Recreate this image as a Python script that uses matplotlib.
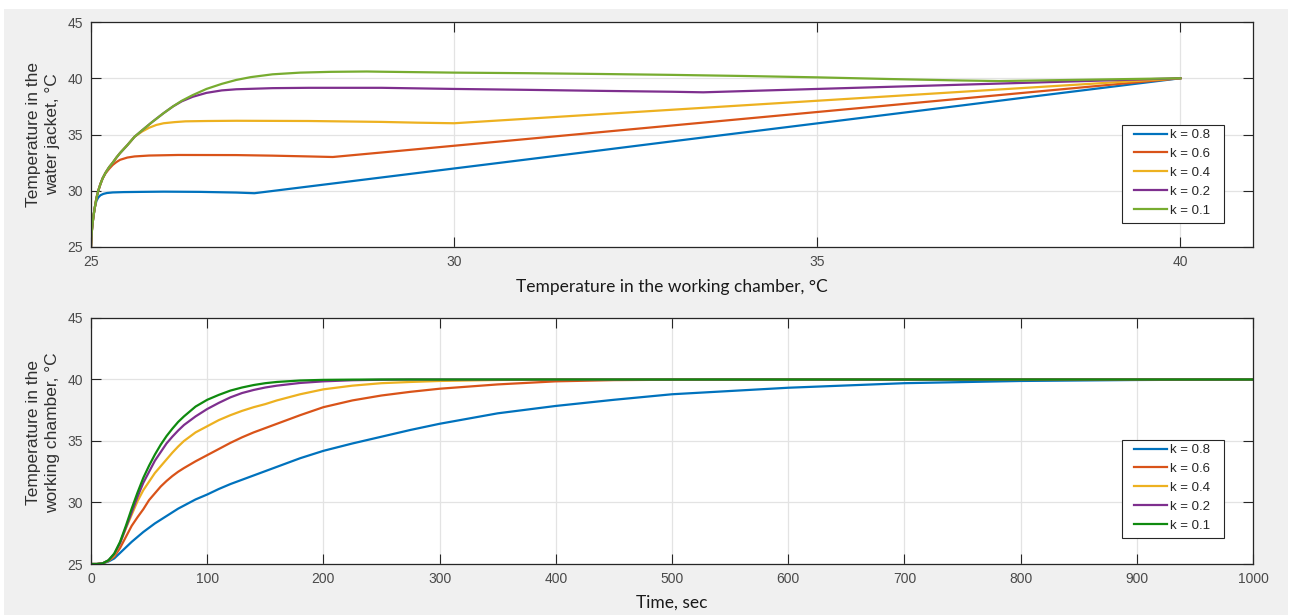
import numpy as np
import matplotlib
matplotlib.use('Agg')
import matplotlib.pyplot as plt
from matplotlib.patches import Rectangle

# ---- data ----
labels = ['k = 0.8', 'k = 0.6', 'k = 0.4', 'k = 0.2', 'k = 0.1']
colors_top = ['#0072BD', '#D95319', '#EDB120', '#7E2F8E', '#77AC30']
colors_bot = ['#0072BD', '#D95319', '#EDB120', '#7E2F8E', '#0F8A0F']

# top plot: water jacket temp vs working chamber temp
# all curves share the same initial rise (env) until they branch off
env_T = [25.0, 25.005, 25.01, 25.02, 25.035, 25.055, 25.075, 25.1, 25.13, 25.16, 25.2,
         25.25, 25.3, 25.35, 25.4, 25.45, 25.5, 25.6, 25.7, 25.84, 26.0, 26.13, 26.25,
         26.4, 26.59, 26.8, 27.0, 27.2, 27.5, 27.88, 28.3, 28.8]
env_v = [25.0, 25.8, 26.3, 27.0, 27.8, 28.6, 29.35, 30.0, 30.6, 31.1, 31.6,
         32.1, 32.5, 32.95, 33.35, 33.7, 34.05, 34.8, 35.35, 36.1, 36.9, 37.5, 38.0,
         38.5, 39.05, 39.5, 39.85, 40.1, 40.35, 40.5, 40.57, 40.6]

branch_T = [25.055, 25.16, 25.6, 26.13, 28.8]   # where each k leaves the common rise

tail_T_08 = [25.075, 25.1, 25.13, 25.17, 25.22, 25.3, 25.45, 25.7, 26.0, 26.5, 27.0, 27.25,
             28.0, 29.0, 30.0, 31.0, 32.0, 33.0, 34.0, 35.0, 36.0, 37.0, 38.0, 39.0, 40.0]
tail_v_08 = [29.1, 29.4, 29.6, 29.72, 29.8, 29.85, 29.88, 29.9, 29.92, 29.9, 29.84, 29.78,
             30.38, 31.18, 31.98, 32.78, 33.58, 34.39, 35.19, 35.99, 36.79, 37.59, 38.4, 39.2, 40.0]

tail_T_06 = [25.2, 25.25, 25.3, 25.35, 25.4, 25.5, 25.6, 25.8, 26.2, 27.0, 27.5, 28.0, 28.33,
             29.0, 30.0, 31.0, 32.0, 33.0, 34.0, 35.0, 36.0, 37.0, 38.0, 39.0, 40.0]
tail_v_06 = [31.55, 31.95, 32.3, 32.55, 32.75, 32.95, 33.05, 33.13, 33.18, 33.17, 33.12, 33.05, 33.0,
             33.4, 34.0, 34.6, 35.2, 35.8, 36.4, 37.0, 37.6, 38.2, 38.8, 39.4, 40.0]

tail_T_04 = [25.7, 25.8, 25.9, 26.0, 26.15, 26.3, 26.6, 27.0, 28.0, 29.0, 29.5, 30.0,
             31.0, 32.0, 33.0, 34.0, 35.0, 36.0, 37.0, 38.0, 39.0, 40.0]
tail_v_04 = [35.25, 35.6, 35.85, 36.0, 36.1, 36.17, 36.2, 36.22, 36.2, 36.12, 36.05, 36.0,
             36.4, 36.8, 37.2, 37.6, 38.0, 38.4, 38.8, 39.2, 39.6, 40.0]

tail_T_02 = [26.25, 26.4, 26.59, 26.8, 27.0, 27.5, 28.0, 29.0, 30.0, 31.0, 32.0, 33.0, 33.43,
             34.0, 35.0, 36.0, 37.0, 38.0, 39.0, 40.0]
tail_v_02 = [37.95, 38.35, 38.7, 38.92, 39.02, 39.12, 39.15, 39.15, 39.05, 38.97, 38.88, 38.8, 38.75,
             38.86, 39.05, 39.24, 39.43, 39.62, 39.81, 40.0]

tail_T_01 = [29.0, 30.0, 31.0, 32.0, 33.0, 34.0, 35.0, 36.0, 37.0, 37.5, 38.0, 39.0, 40.0]
tail_v_01 = [40.58, 40.5, 40.45, 40.38, 40.3, 40.2, 40.08, 39.93, 39.8, 39.75, 39.8, 39.9, 40.0]

tails_T = [tail_T_08, tail_T_06, tail_T_04, tail_T_02, tail_T_01]
tails_v = [tail_v_08, tail_v_06, tail_v_04, tail_v_02, tail_v_01]

# bottom plot: working chamber temp vs time
t = [0, 5, 10, 15, 20, 25, 30, 35, 40, 45, 50, 55, 60, 65, 70, 75, 80, 90, 100, 110,
     120, 130, 140, 150, 160, 180, 200, 225, 250, 275, 300, 350, 400, 450, 500, 600,
     700, 800, 900, 1000]
wc_08 = [25.0, 25.0, 25.05, 25.2, 25.45, 25.9, 26.35, 26.8, 27.2, 27.6, 27.95, 28.3, 28.6,
         28.9, 29.2, 29.5, 29.75, 30.25, 30.65, 31.1, 31.5, 31.85, 32.2, 32.55, 32.9, 33.6,
         34.2, 34.8, 35.35, 35.9, 36.4, 37.25, 37.85, 38.35, 38.8, 39.33, 39.7, 39.88, 39.96, 40.0]
wc_06 = [25.0, 25.0, 25.05, 25.25, 25.6, 26.3, 27.2, 28.1, 28.8, 29.45, 30.2, 30.75, 31.3,
         31.75, 32.15, 32.5, 32.8, 33.35, 33.85, 34.35, 34.85, 35.3, 35.7, 36.05, 36.4, 37.1,
         37.75, 38.3, 38.7, 39.0, 39.25, 39.6, 39.85, 39.95, 39.98, 40.0, 40.0, 40.0, 40.0, 40.0]
wc_04 = [25.0, 25.0, 25.05, 25.28, 25.7, 26.7, 27.9, 29.0, 30.1, 31.0, 31.7, 32.4, 32.95,
         33.5, 34.05, 34.55, 35.0, 35.7, 36.2, 36.7, 37.1, 37.45, 37.75, 38.0, 38.3, 38.8,
         39.2, 39.5, 39.7, 39.8, 39.88, 39.96, 40.0, 40.0, 40.0, 40.0, 40.0, 40.0, 40.0, 40.0]
wc_02 = [25.0, 25.0, 25.05, 25.3, 25.8, 26.7, 27.95, 29.2, 30.45, 31.6, 32.5, 33.4, 34.1,
         34.8, 35.35, 35.85, 36.3, 37.0, 37.6, 38.1, 38.55, 38.9, 39.15, 39.35, 39.5, 39.72,
         39.85, 39.94, 39.98, 40.0, 40.0, 40.0, 40.0, 40.0, 40.0, 40.0, 40.0, 40.0, 40.0, 40.0]
wc_01 = [25.0, 25.0, 25.05, 25.3, 25.85, 26.8, 28.1, 29.5, 30.8, 32.0, 33.0, 33.9, 34.7,
         35.4, 36.0, 36.55, 37.0, 37.8, 38.35, 38.75, 39.1, 39.35, 39.55, 39.7, 39.8, 39.92,
         39.97, 39.99, 40.0, 40.0, 40.0, 40.0, 40.0, 40.0, 40.0, 40.0, 40.0, 40.0, 40.0, 40.0]
bot_y = [wc_08, wc_06, wc_04, wc_02, wc_01]

W, H = 1295, 615
fig = plt.figure(figsize=(W / 100, H / 100), dpi=100)
fig.patch.set_facecolor('white')
fig.add_artist(Rectangle((4 / W, 0), (1288 - 4) / W, (H - 9) / H, transform=fig.transFigure,
                         fc='#f0f0f0', ec='none', zorder=-5))

font = 'Liberation Sans'
ax1 = fig.add_axes([91 / W, 1 - 247 / H, 1162 / W, 225 / H])
ax2 = fig.add_axes([91 / W, 1 - 564 / H, 1162 / W, 246 / H])


def style(ax):
    ax.set_facecolor('white')
    for s in ax.spines.values():
        s.set_color('#262626')
        s.set_linewidth(0.9)
    ax.tick_params(direction='in', length=7.5, width=0.8, color='#262626',
                   top=True, right=True, labelsize=10, labelcolor='#4a4a4a', pad=5.5)
    for lab in ax.get_xticklabels() + ax.get_yticklabels():
        lab.set_fontfamily(font)
    ax.grid(True, color='#e3e3e3', linewidth=0.9)
    ax.set_axisbelow(True)


for bT, tT, tv, c, lab in zip(branch_T, tails_T, tails_v, colors_top, labels):
    n = env_T.index(bT) + 1
    ax1.plot(env_T[:n] + tT, env_v[:n] + tv, color=c, lw=1.6, label=lab)
ax1.set_xlim(25, 41)
ax1.set_ylim(25, 45)
ax1.set_xticks([25, 30, 35, 40])
ax1.set_yticks([25, 30, 35, 40, 45])
style(ax1)

for ys, c, lab in zip(bot_y, colors_bot, labels):
    ax2.plot(t, ys, color=c, lw=1.6, label=lab)
ax2.set_xlim(0, 1000)
ax2.set_ylim(25, 45)
ax2.set_xticks(np.arange(0, 1001, 100))
ax2.set_yticks([25, 30, 35, 40, 45])
style(ax2)

ax1.set_xlabel('Temperature in the working chamber, °C', fontfamily='Lato',
               fontsize=12.5, color='#1a1a1a')
ax1.xaxis.set_label_coords(0.5, (247 - 287) / 225)
ax1.xaxis.label.set_va('center')
ax2.set_xlabel('Time, sec', fontfamily='Lato', fontsize=12.5, color='#1a1a1a')
ax2.xaxis.set_label_coords(0.5, (564 - 603) / 246)
ax2.xaxis.label.set_va('center')

ax1.set_ylabel('Temperature in the\nwater jacket, °C', fontfamily=font,
               fontsize=12.5, color='#303030', linespacing=1.35)
ax1.yaxis.set_label_coords((43 - 91) / 1162, 0.5)
ax1.yaxis.label.set_va('center')
ax2.set_ylabel('Temperature in the\nworking chamber, °C', fontfamily=font,
               fontsize=12.5, color='#303030', linespacing=1.35)
ax2.yaxis.set_label_coords((43 - 91) / 1162, 0.535)
ax2.yaxis.label.set_va('center')


# legend: box drawn separately so its padding can match the reference
def px_to_axes(ax, x, y, bot_px, h_px):
    return (x - 91) / 1162, (bot_px - y) / h_px


for ax, box_top, bot_px, h_px in [(ax1, 125, 247, 225), (ax2, 440, 564, 246)]:
    x0, y1 = px_to_axes(ax, 1122, box_top, bot_px, h_px)
    x1, y0 = px_to_axes(ax, 1224, box_top + 98, bot_px, h_px)
    ax.add_patch(Rectangle((x0, y0), x1 - x0, y1 - y0, transform=ax.transAxes,
                           fc='white', ec='#262626', lw=0.8, zorder=4.5))
    ax_x, ax_y = px_to_axes(ax, 1134, box_top + 4, bot_px, h_px)
    leg = ax.legend(loc='upper left', bbox_to_anchor=(ax_x, ax_y), bbox_transform=ax.transAxes,
                    borderaxespad=0, borderpad=0, frameon=False, handlelength=2.5,
                    handletextpad=0.2, labelspacing=0.5, prop={'family': font, 'size': 9.5})
    leg.set_zorder(5)
    for txt in leg.get_texts():
        txt.set_color('#262626')

fig.savefig('out.png', dpi=100)
